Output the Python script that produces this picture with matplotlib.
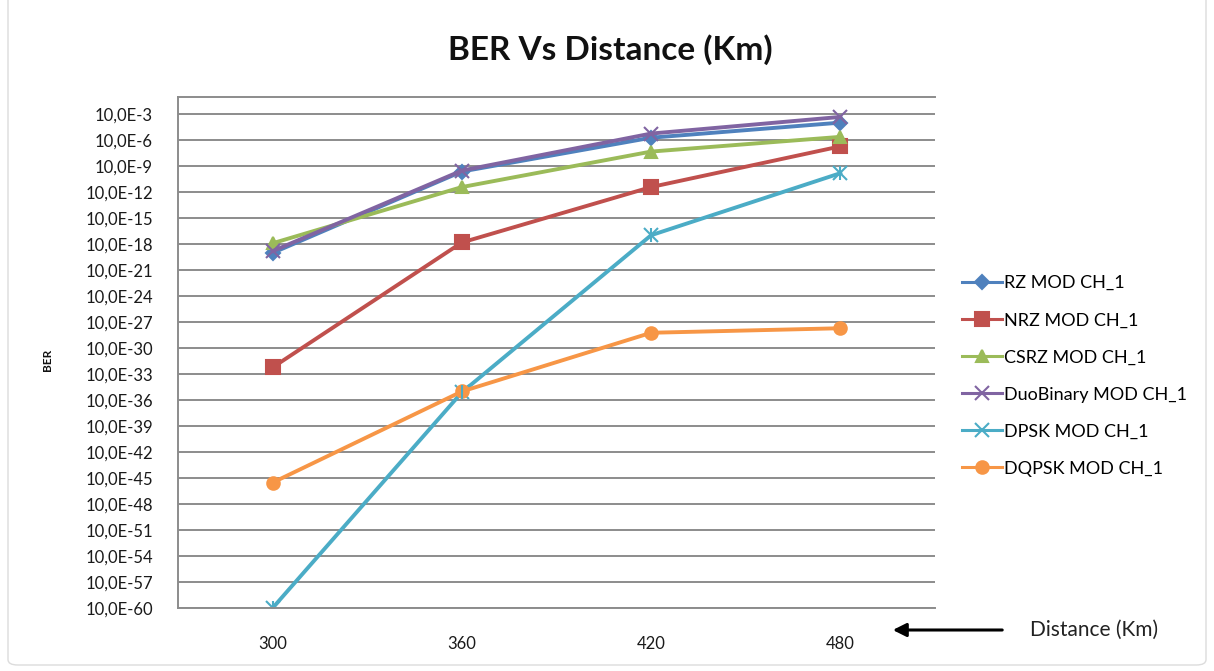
import numpy as np
import matplotlib
matplotlib.use("Agg")
import matplotlib.pyplot as plt
from matplotlib.ticker import FixedLocator, FuncFormatter, NullLocator
from matplotlib.patches import FancyBboxPatch, FancyArrowPatch

plt.rcParams['font.family'] = ['Lato', 'DejaVu Sans']

# Distance categories (km)
distances = ["300", "360", "420", "480"]

# BER values per modulation format, channel 1
ber_rz = [1.0e-18, 2.5e-9, 2.0e-5, 1.1e-3]
ber_nrz = [6.0e-32, 1.6e-17, 4.0e-11, 2.0e-6]
ber_csrz = [1.3e-17, 4.0e-11, 5.0e-7, 2.5e-5]
ber_duobinary = [1.6e-18, 3.2e-9, 6.0e-5, 5.0e-3]
ber_dpsk = [1.0e-59, 8.0e-35, 1.1e-16, 1.6e-9]
ber_dqpsk = [3.0e-45, 1.0e-34, 6.0e-28, 2.0e-27]

series_names = ["RZ MOD CH_1", "NRZ MOD CH_1", "CSRZ MOD CH_1",
                "DuoBinary MOD CH_1", "DPSK MOD CH_1", "DQPSK MOD CH_1"]
series_values = [ber_rz, ber_nrz, ber_csrz, ber_duobinary, ber_dpsk, ber_dqpsk]
series_colors = ["#4F81BD", "#C0504D", "#9BBB59", "#8064A2", "#4BACC6", "#F79646"]
series_markers = ["D", "s", "^", "x", "x", "o"]
series_msize = [7, 10, 9, 10, 10, 9]

W, H = 1214, 671
fig = plt.figure(figsize=(W / 100, H / 100), dpi=100)
fig.patch.set_facecolor("white")

# faint chart-area frame
frame = FancyBboxPatch((8 / W, 6 / H), 1198 / W, 680 / H,
                       boxstyle="round,pad=0,rounding_size=0.008",
                       transform=fig.transFigure, facecolor="none",
                       edgecolor="#dcdcdc", linewidth=1.0)
fig.patches.append(frame)

ax = fig.add_axes([178 / W, 1 - 608 / H, (935 - 178) / W, (608 - 97) / H])
x = np.arange(len(distances))

for name, vals, col, mk, ms in zip(series_names, series_values, series_colors,
                                   series_markers, series_msize):
    ax.plot(x, vals, color=col, marker=mk, markersize=ms, linewidth=2.8,
            markeredgecolor=col, markerfacecolor=col, markeredgewidth=1.5,
            label=name)
# asterisk-like marker for DPSK: add a vertical bar on top of the x
ax.plot(x, ber_dpsk, linestyle="none", marker="|", markersize=10,
        color="#4BACC6", markeredgewidth=1.5)

ax.set_yscale("log")
ax.set_ylim(1e-59, 1e0)
ax.set_xlim(-0.5, 3.5)

major = [10.0 ** (-2 - 3 * k) for k in range(20)]
ax.yaxis.set_major_locator(FixedLocator(major))
ax.yaxis.set_minor_locator(NullLocator())


def ber_label(v, pos):
    e = int(round(np.log10(v)))
    return f"10,0E{e - 1}"


ax.yaxis.set_major_formatter(FuncFormatter(ber_label))
ax.set_xticks(x)
ax.set_xticklabels(distances)

ax.grid(axis="y", color="#8c8c8c", linewidth=1.4)
ax.set_axisbelow(True)
ax.spines["right"].set_visible(False)
for side in ["left", "top", "bottom"]:
    ax.spines[side].set_color("#8c8c8c")
    ax.spines[side].set_linewidth(1.4)
ax.tick_params(axis="both", length=0, labelsize=12, colors="#1a1a1a")
ax.tick_params(axis="y", pad=18)
ax.tick_params(axis="x", pad=20)

fig.text(0.503, 1 - 50 / H, "BER Vs Distance (Km)", ha="center", va="center",
         fontsize=24, fontweight="bold", color="#111111")
fig.text(48 / W, 1 - 360 / H, "BER", rotation=90, ha="center", va="center",
         fontsize=8.5, fontweight="bold", color="#111111")

leg = fig.legend(loc="center left", bbox_to_anchor=(962 / W, 1 - 376 / H),
                 frameon=False, fontsize=13, labelspacing=1.17,
                 handlelength=2.2, handletextpad=0.15, borderaxespad=0,
                 borderpad=0)
for line in leg.get_lines():
    line.set_linewidth(2.2)

# arrow pointing back at the distance axis
fig.add_artist(FancyArrowPatch(
    (1005 / W, 1 - 630 / H), (890 / W, 1 - 630 / H),
    transform=fig.transFigure, arrowstyle="-|>,head_length=8,head_width=4",
    color="black", linewidth=2.2))
fig.text(1030 / W, 1 - 630 / H, "Distance (Km)", ha="left", va="center",
         fontsize=15, color="#222222")

fig.savefig("out.png", dpi=100, facecolor="white")
